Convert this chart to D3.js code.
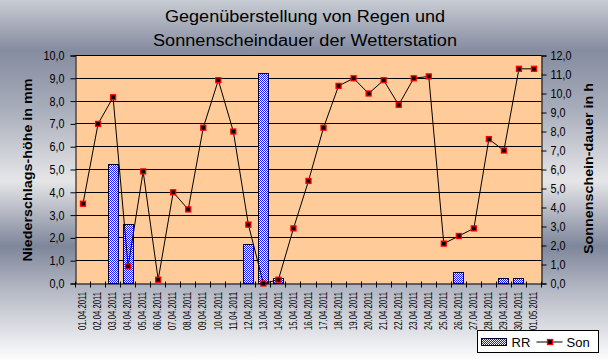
<!DOCTYPE html>
<html>
<head>
<meta charset="utf-8">
<script src="https://cdn.jsdelivr.net/npm/d3@7"></script>
<style>
  body { margin: 0; padding: 0; overflow: hidden; }
  text { font-family: "Liberation Sans", Arial, sans-serif; fill: #000; }
</style>
</head>
<body>
<script>
// categories (days)
const days = ['01.04.2011','02.04.2011','03.04.2011','04.04.2011','05.04.2011','06.04.2011',
  '07.04.2011','08.04.2011','09.04.2011','10.04.2011','11.04.2011','12.04.2011','13.04.2011',
  '14.04.2011','15.04.2011','16.04.2011','17.04.2011','18.04.2011','19.04.2011','20.04.2011',
  '21.04.2011','22.04.2011','23.04.2011','24.04.2011','25.04.2011','26.04.2011','27.04.2011',
  '28.04.2011','29.04.2011','30.04.2011','01.05.2011'];

// RR = Niederschlag in mm (left axis)
const rr = [0, 0, 5.2, 2.6, 0, 0, 0, 0, 0, 0, 0, 1.7, 9.2, 0.2, 0, 0,
  0, 0, 0, 0, 0, 0, 0, 0, 0, 0.5, 0, 0, 0.2, 0.2, 0];

// Son = Sonnenscheindauer in h (right axis)
const son = [4.2, 8.4, 9.8, 0.9, 5.9, 0.2, 4.8, 3.9, 8.2, 10.7, 8.0, 3.1, 0.0, 0.2, 2.9, 5.4,
  8.2, 10.4, 10.8, 10.0, 10.7, 9.4, 10.8, 10.9, 2.1, 2.5, 2.9, 7.6, 7.0, 11.3, 11.3];

const leftTicks = [0,1,2,3,4,5,6,7,8,9,10];
const rightTicks = [0,1,2,3,4,5,6,7,8,9,10,11,12];
const titleLines = ['Gegenüberstellung von Regen und', 'Sonnenscheindauer der Wetterstation'];

const W = 608, H = 362;
const svg = d3.select('body')
    .append('svg')
    .attr('width', W)
    .attr('height', H);

const defs = svg.append('defs');

// metallic background gradient
const grad = defs.append('linearGradient')
    .attr('id', 'bg')
    .attr('x1', 0).attr('y1', 0).attr('x2', 0).attr('y2', 1);
[[0, '#c8ccd4'], [0.14, '#858ca0'], [0.30, '#a8adbb'], [0.50, '#e6e6e8'],
 [0.68, '#7e869a'], [0.80, '#b4b8c4'], [1, '#ffffff']].forEach(s => {
  grad.append('stop').attr('offset', s[0]).attr('stop-color', s[1]);
});

// blue/white checker for the bars (shifted by half a pixel to sit on the pixel grid)
const pat = defs.append('pattern')
    .attr('id', 'chk')
    .attr('x', 0.5).attr('y', 0.5)
    .attr('width', 2).attr('height', 2)
    .attr('patternUnits', 'userSpaceOnUse');
pat.append('rect').attr('width', 2).attr('height', 2).attr('fill', '#ffffff');
pat.append('rect').attr('width', 1).attr('height', 1).attr('fill', '#1a1aff');
pat.append('rect').attr('x', 1).attr('y', 1).attr('width', 1).attr('height', 1).attr('fill', '#1a1aff');

svg.append('rect').attr('width', W).attr('height', H).attr('fill', 'url(#bg)');

// plot area
const margin = {top: 55, right: 67, bottom: 79, left: 75};
const graphWidth = W - margin.left - margin.right;
const graphHeight = H - margin.top - margin.bottom;

const graph = svg.append('g')
    .attr('transform', `translate(${margin.left + 0.5},${margin.top + 0.5})`);

const x = d3.scaleBand()
    .domain(days)
    .range([0, graphWidth]);

const yL = d3.scaleLinear().domain([0, 10]).range([graphHeight, 0]);
const yR = d3.scaleLinear().domain([0, 12]).range([graphHeight, 0]);

const fmt = d => d3.format('.1f')(d).replace('.', ',');

graph.append('rect')
    .attr('width', graphWidth)
    .attr('height', graphHeight)
    .attr('fill', '#ffcc99');

// grid lines (left axis)
graph.selectAll('line.grid')
    .data(leftTicks.filter(d => d > 0))
    .enter().append('line')
    .attr('class', 'grid')
    .attr('x1', 0).attr('x2', graphWidth)
    .attr('y1', d => Math.round(yL(d))).attr('y2', d => Math.round(yL(d)))
    .attr('stroke', '#000').attr('stroke-width', 1);

// bars
graph.selectAll('rect.bar')
    .data(days.map((d, i) => ({day: d, v: rr[i]})).filter(d => d.v > 0))
    .enter().append('rect')
    .attr('class', 'bar')
    .attr('x', d => Math.round(x(d.day) + x.bandwidth() / 2 - 5))
    .attr('width', 10)
    .attr('y', d => Math.round(yL(d.v)))
    .attr('height', d => graphHeight - Math.round(yL(d.v)))
    .attr('fill', 'url(#chk)')
    .attr('stroke', '#000033')
    .attr('stroke-width', 1);

// sunshine line
const line = d3.line()
    .x((d, i) => x(days[i]) + x.bandwidth() / 2)
    .y(d => yR(d));

graph.append('path')
    .datum(son)
    .attr('d', line)
    .attr('fill', 'none')
    .attr('stroke', '#000')
    .attr('stroke-width', 1);

graph.selectAll('rect.mark')
    .data(son)
    .enter().append('rect')
    .attr('class', 'mark')
    .attr('x', (d, i) => x(days[i]) + x.bandwidth() / 2 - 2.5)
    .attr('y', d => yR(d) - 2.5)
    .attr('width', 5).attr('height', 5)
    .attr('fill', '#000')
    .attr('stroke', '#ff0000')
    .attr('stroke-width', 1.3);

// left axis
const yAxisGroup = graph.append('g');
yAxisGroup.call(d3.axisLeft(yL).tickValues(leftTicks).tickFormat(fmt).tickSize(5).tickPadding(6));
// right axis
const yAxisRGroup = graph.append('g').attr('transform', `translate(${graphWidth},0)`);
yAxisRGroup.call(d3.axisRight(yR).tickValues(rightTicks).tickFormat(fmt).tickSize(5).tickPadding(4));

[yAxisGroup, yAxisRGroup].forEach(g => {
  g.select('.domain').attr('stroke', '#000');
  g.selectAll('.tick line').attr('stroke', '#000');
  g.selectAll('.tick text')
      .attr('font-size', 12.5)
      .attr('font-family', '"Liberation Sans", Arial, sans-serif')
      .attr('fill', '#000')
      .attr('textLength', d => fmt(d).length > 3 ? 21 : 15)
      .attr('lengthAdjust', 'spacingAndGlyphs');
});

// top border of plot
graph.append('line')
    .attr('x1', 0).attr('x2', graphWidth)
    .attr('y1', 0).attr('y2', 0)
    .attr('stroke', '#000');

// x axis: labels at category centres, ticks at category borders
const xAxisGroup = graph.append('g')
    .attr('transform', `translate(0,${graphHeight})`);
xAxisGroup.call(d3.axisBottom(x).tickSize(0).tickSizeOuter(0));
xAxisGroup.select('.domain').attr('stroke', '#000');
xAxisGroup.selectAll('.tick text')
    .attr('transform', 'rotate(-90)')
    .attr('text-anchor', 'end')
    .attr('x', -8.5)
    .attr('y', 0)
    .attr('dy', '0.32em')
    .attr('font-size', 10)
    .attr('font-family', '"Liberation Sans", Arial, sans-serif')
    .attr('fill', '#000')
    .attr('textLength', 38)
    .attr('lengthAdjust', 'spacingAndGlyphs');

xAxisGroup.selectAll('line.btick')
    .data(days.map(d => x(d)).concat([graphWidth]))
    .enter().append('line')
    .attr('class', 'btick')
    .attr('x1', d => Math.round(d)).attr('x2', d => Math.round(d))
    .attr('y1', -2).attr('y2', 4)
    .attr('stroke', '#000');

// title
svg.selectAll('text.title')
    .data(titleLines)
    .enter().append('text')
    .attr('class', 'title')
    .attr('x', 305)
    .attr('y', (d, i) => 22 + i * 24)
    .attr('text-anchor', 'middle')
    .attr('font-size', 16)
    .attr('textLength', (d, i) => i === 0 ? 280 : 304)
    .attr('lengthAdjust', 'spacingAndGlyphs')
    .text(d => d);

// axis titles
svg.append('text')
    .attr('transform', 'translate(32,170) rotate(-90)')
    .attr('text-anchor', 'middle')
    .attr('font-size', 13.5)
    .attr('font-weight', 'bold')
    .attr('textLength', 183)
    .attr('lengthAdjust', 'spacingAndGlyphs')
    .text('Niederschlags-höhe in mm');

svg.append('text')
    .attr('transform', 'translate(593,168.5) rotate(-90)')
    .attr('text-anchor', 'middle')
    .attr('font-size', 13.5)
    .attr('font-weight', 'bold')
    .attr('textLength', 171)
    .attr('lengthAdjust', 'spacingAndGlyphs')
    .text('Sonnenschein-dauer in h');

// legend
const legend = svg.append('g').attr('transform', 'translate(477.5,330.5)');
legend.append('rect')
    .attr('width', 121).attr('height', 22)
    .attr('fill', '#fff').attr('stroke', '#000');
legend.append('rect')
    .attr('x', 4).attr('y', 8).attr('width', 25).attr('height', 7)
    .attr('fill', 'url(#chk)').attr('stroke', '#000033');
legend.append('text')
    .attr('x', 34).attr('y', 16)
    .attr('font-size', 13)
    .text('RR');
legend.append('line')
    .attr('x1', 59).attr('x2', 85).attr('y1', 11.5).attr('y2', 11.5)
    .attr('stroke', '#000');
legend.append('rect')
    .attr('x', 70).attr('y', 9).attr('width', 5).attr('height', 5)
    .attr('fill', '#000').attr('stroke', '#ff0000').attr('stroke-width', 1.3);
legend.append('text')
    .attr('x', 89).attr('y', 16)
    .attr('font-size', 13)
    .text('Son');
</script>
</body>
</html>
